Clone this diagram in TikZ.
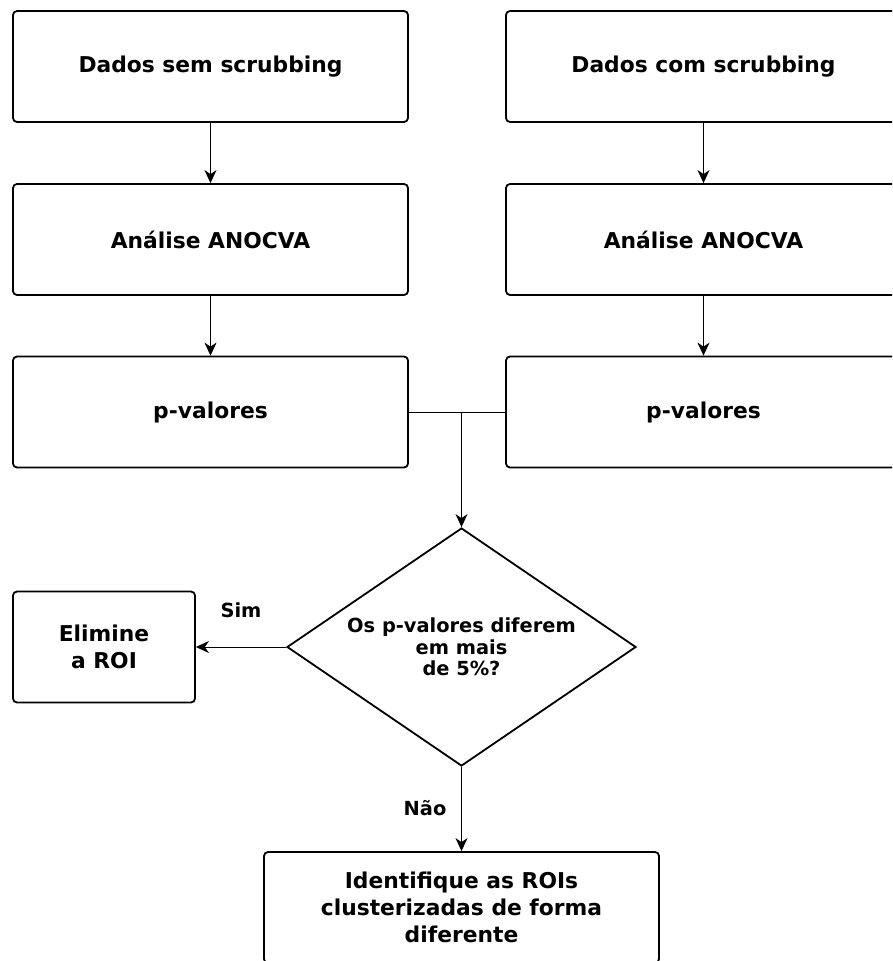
\documentclass[tikz,border=0pt]{standalone}
\usepackage{fontspec}
\setmainfont{DejaVu Sans}
\usepackage{tikz}
\usetikzlibrary{arrows.meta,shapes.geometric}

\begin{document}
\begin{tikzpicture}[x=1pt, y=-1pt,
    stepbox/.style={draw, line width=1.8pt, rounded corners=4pt, minimum width=395pt, minimum height=111pt, inner sep=0pt, align=center, font=\fontsize{21.8}{27}\selectfont\bfseries},
    smallbox/.style={stepbox, minimum width=182pt},
    decision/.style={draw, diamond, line width=1.8pt, aspect=1.466, minimum width=349pt, minimum height=238pt, inner sep=0pt, align=center, font=\fontsize{19.4}{21.5}\selectfont\bfseries},
    flow/.style={line width=1pt, -{Stealth[length=13pt, width=12pt, inset=4pt]}},
    answer/.style={font=\fontsize{19.4}{22}\selectfont\bfseries}]
    \useasboundingbox (0,0) rectangle (892,961);
    \clip (0,0) rectangle (892,961);

    % two columns: without / with scrubbing
    \node[stepbox] (semDados) at (210.5,66.5) {Dados sem scrubbing};
    \node[stepbox] (comDados) at (703.5,66.5) {Dados com scrubbing};
    \node[stepbox] (semAnocva) at (210.5,239.5) {Análise ANOCVA};
    \node[stepbox] (comAnocva) at (703.5,239.5) {Análise ANOCVA};
    \node[stepbox] (semPval) at (210.5,412) {p-valores};
    \node[stepbox] (comPval) at (703.5,412) {p-valores};

    % decision and outcomes
    \node[decision] (compara) at (461.5,647) {Os p-valores diferem\\em mais\\de 5\%?};
    \node[smallbox] (elimine) at (104,647) {Elimine\\a ROI};
    \node[stepbox] (identifique) at (461.5,907.5) {Identifique as ROIs\\clusterizadas de forma\\diferente};

    \draw[flow] (semDados) -- (semAnocva);
    \draw[flow] (comDados) -- (comAnocva);
    \draw[flow] (semAnocva) -- (semPval);
    \draw[flow] (comAnocva) -- (comPval);

    % merge of both p-value boxes
    \draw[line width=1pt] (semPval.east) -- (comPval.west);
    \draw[flow] (semPval.east -| compara.north) -- (compara.north);

    \draw[flow] (compara.west) -- (elimine.east);
    \draw[flow] (compara.south) -- (identifique.north);

    \node[answer] (sim) at (241,610) {Sim};
    \node[answer] (nao) at (425,808) {Não};
\end{tikzpicture}
\end{document}
